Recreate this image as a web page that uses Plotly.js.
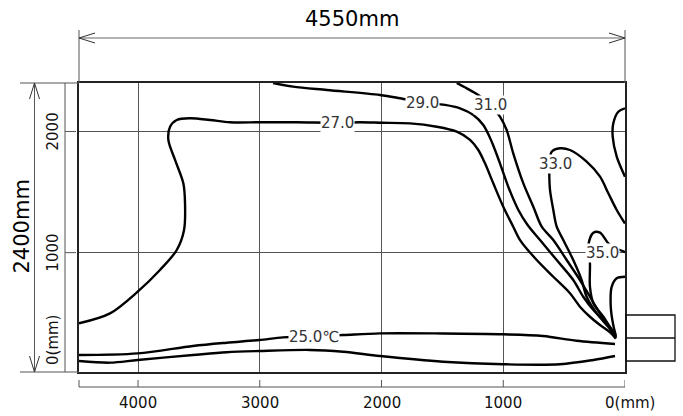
<!DOCTYPE html>
<html>
<head>
<meta charset="utf-8">
<script src="https://cdn.plot.ly/plotly-3.0.1.min.js"></script>
<style>html,body{margin:0;padding:0;background:#fff;}</style>
</head>
<body>
<div id="chart" style="width:683px;height:416px;"></div>
<script>
// ---- data (mm, temperature contours) ----
const xTickVals = [4000, 3000, 2000, 1000, 0];
const xTickText = ['4000', '3000', '2000', '1000', '0(mm)'];
const yTickVals = [2000, 1000];
const yTickText = ['2000', '1000'];
const yZeroText = '0(mm)';

const c25aX = [4485, 4003, 3549, 3272, 3004, 2809, 2555, 2316, 2012, 1495, 1000, 674, 397, 82];
const c25aY = [155, 169, 230, 257, 279, 301, 310, 320, 334, 333, 326, 312, 273, 246];
const c25bX = [4485, 4230, 4003, 3549, 3272, 3004, 2588, 2316, 2012, 1495, 1000, 534, 260, 82];
const c25bY = [106, 92, 114, 155, 178, 188, 197, 182, 147, 100, 79, 79, 114, 147];
const c27X = [4485, 4230, 4003, 3820, 3682, 3622, 3614, 3628, 3696, 3751, 3737, 3682, 3573, 3409, 3245, 2998, 2700, 2362, 2177, 1999, 1766, 1547, 1382, 1273, 1205, 1150, 1082, 1000, 918, 862, 725, 589, 452, 370, 288, 205, 120, 75];
const c27Y = [417, 499, 678, 857, 1022, 1187, 1407, 1572, 1765, 1930, 2039, 2095, 2109, 2095, 2076, 2076, 2076, 2072, 2076, 2072, 2067, 2039, 1998, 1930, 1847, 1737, 1572, 1379, 1214, 1104, 939, 801, 665, 554, 471, 403, 340, 290];
const c29X = [2891, 2727, 2448, 2012, 1848, 1663, 1479, 1355, 1246, 1164, 1095, 1027, 959, 876, 800, 698, 561, 425, 343, 260, 178, 110, 75];
const c29Y = [2400, 2370, 2342, 2301, 2274, 2240, 2219, 2191, 2136, 2053, 1916, 1737, 1544, 1352, 1228, 1104, 939, 774, 636, 527, 444, 360, 295];
const c31X = [1382, 1300, 1205, 1105, 1027, 972, 918, 835, 753, 684, 589, 479, 370, 288, 205, 120, 75];
const c31Y = [2400, 2356, 2301, 2219, 2122, 2012, 1820, 1572, 1379, 1214, 1104, 939, 774, 636, 499, 380, 300];
const c33X = [0, 68, 137, 205, 315, 452, 534, 602, 620, 622, 616, 589, 561, 507, 425, 356, 315, 232, 140, 75];
const c33Y = [1240, 1352, 1490, 1627, 1751, 1847, 1861, 1833, 1740, 1655, 1517, 1352, 1214, 1104, 939, 774, 636, 499, 390, 305];
const c35X = [0, 60, 137, 205, 260, 301, 288, 288, 260, 178, 120, 75];
const c35Y = [1005, 1030, 1077, 1165, 1165, 1063, 912, 719, 582, 471, 380, 310];
const c37X = [0, 68, 109, 117, 96, 75];
const c37Y = [801, 788, 719, 554, 400, 315];
const cTopX = [0, 55, 96, 101, 68, 0];
const cTopY = [2191, 2163, 2067, 1957, 1792, 1627];

const labelText = ['27.0', '29.0', '31.0', '33.0', '35.0', '25.0℃'];
const labelX = [2362, 1663, 1105, 575, 185, 2555];
const labelY = [2067, 2233, 2219, 1728, 995, 304];

const widthLabel = '4550mm';
const heightLabel = '2400mm';

// ---- layout geometry ----
const W = 683, H = 416;
const mL = 79, mR = 58, mT = 83, mB = 44;
const pw = W - mL - mR, ph = H - mT - mB;
const px = v => (v - mL) / pw;          // pixel x -> paper
const py = v => (H - mB - v) / ph;      // pixel y -> paper

const lineStyle = {color: '#000', width: 2.4, shape: 'spline', smoothing: 0.9};
const series = [[c25aX, c25aY], [c25bX, c25bY], [c27X, c27Y], [c29X, c29Y], [c31X, c31Y], [c33X, c33Y], [c35X, c35Y], [c37X, c37Y], [cTopX, cTopY]];
const traces = series.map(s => ({
  type: 'scatter', mode: 'lines', x: s[0], y: s[1],
  line: lineStyle, hoverinfo: 'skip', showlegend: false, cliponaxis: true
}));

const font = 'DejaVu Sans, Liberation Sans, sans-serif';
const ann = (o) => Object.assign({showarrow: false, xanchor: 'center', yanchor: 'middle'}, o);
const annotations = [];
labelText.forEach((t, i) => annotations.push(ann({
  x: labelX[i], y: labelY[i], xref: 'x', yref: 'y', text: t,
  font: {family: font, size: 15, color: '#333'}, bgcolor: '#fff', borderpad: 0
})));
xTickVals.forEach((v, i) => annotations.push(ann({
  x: v, y: py(403), xref: 'x', yref: 'paper', text: xTickText[i],
  xshift: (v === 0 ? 5 : 0), font: {family: font, size: 15, color: '#111'}
})));
yTickVals.forEach((v, i) => annotations.push(ann({
  x: px(53), y: v, xref: 'paper', yref: 'y', text: yTickText[i],
  textangle: -90, font: {family: font, size: 15, color: '#111'}
})));
annotations.push(ann({x: px(53), y: py(340), xref: 'paper', yref: 'paper', text: yZeroText,
  textangle: -90, font: {family: font, size: 15, color: '#111'}}));
annotations.push(ann({x: px(351.5), y: py(18.5), xref: 'paper', yref: 'paper', text: widthLabel,
  font: {family: font, size: 21, color: '#000'}}));
annotations.push(ann({x: px(21.5), y: py(227), xref: 'paper', yref: 'paper', text: heightLabel,
  textangle: -90, font: {family: font, size: 21, color: '#000'}}));

const shapes = [];
const L = (x0, y0, x1, y1, c, w) => shapes.push({type: 'line', xref: 'paper', yref: 'paper',
  x0: px(x0), y0: py(y0), x1: px(x1), y1: py(y1), line: {color: c || '#555', width: w || 1}});
// top dimension
L(79, 38, 625, 38, '#666');
L(79, 30, 79, 83, '#555'); L(625, 30, 625, 83, '#555');
L(79, 38, 95, 33, '#333'); L(79, 38, 95, 43, '#333');
L(625, 38, 609, 33, '#333'); L(625, 38, 609, 43, '#333');
// left dimension
L(34.5, 83, 34.5, 372, '#555');
L(20, 83, 79, 83, '#555'); L(20, 372, 79, 372, '#555');
L(34.5, 83, 29.5, 99, '#333'); L(34.5, 83, 39.5, 99, '#333');
L(34.5, 372, 29.5, 356, '#333'); L(34.5, 372, 39.5, 356, '#333');
// y axis line
L(65, 83, 65, 372, '#555');
yTickVals.forEach(v => shapes.push({type: 'line', xref: 'paper', yref: 'y',
  x0: px(65), x1: px(76), y0: v, y1: v, line: {color: '#555', width: 1}}));
// x axis line
L(79, 387, 625, 387, '#555');
L(79, 380, 79, 387, '#555');
xTickVals.forEach(v => shapes.push({type: 'line', xref: 'x', yref: 'paper',
  x0: v, x1: v, y0: py(380), y1: py(387), line: {color: '#555', width: 1}}));
// outlet box
shapes.push({type: 'rect', xref: 'paper', yref: 'paper', x0: px(626), x1: px(675), y0: py(315), y1: py(361),
  line: {color: '#111', width: 1.3}});
L(626, 338, 675, 338, '#111', 1.3);

const layout = {
  width: W, height: H,
  margin: {l: mL, r: mR, t: mT, b: mB, pad: 0},
  paper_bgcolor: '#fff', plot_bgcolor: '#fff',
  showlegend: false,
  xaxis: {range: [4485, 0], tickvals: xTickVals, showticklabels: false, ticks: '',
    showgrid: true, gridcolor: '#555', gridwidth: 1, zeroline: false,
    showline: true, mirror: true, linecolor: '#222', linewidth: 2, fixedrange: true},
  yaxis: {range: [15, 2400], tickvals: yTickVals, showticklabels: false, ticks: '',
    showgrid: true, gridcolor: '#555', gridwidth: 1, zeroline: false,
    showline: true, mirror: true, linecolor: '#222', linewidth: 2, fixedrange: true},
  annotations: annotations,
  shapes: shapes
};
Plotly.newPlot('chart', traces, layout, {staticPlot: true, displayModeBar: false});
</script>
</body>
</html>
